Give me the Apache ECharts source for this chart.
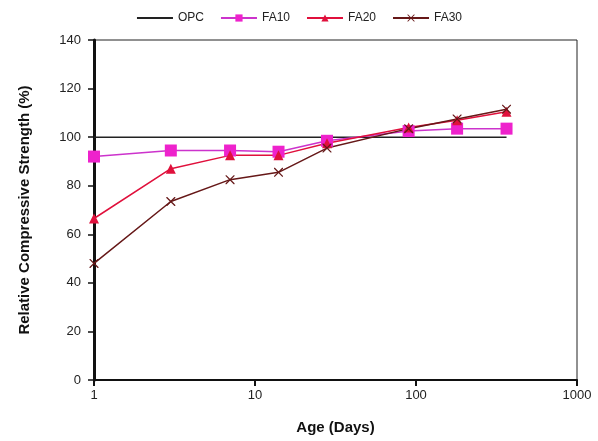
<!DOCTYPE html>
<html>
<head>
<meta charset="utf-8">
<script src="https://cdn.jsdelivr.net/npm/echarts@6/dist/echarts.min.js"></script>
<style>html,body{margin:0;padding:0;background:#fff}#c{width:598px;height:441px}</style>
</head>
<body>
<div id="c"></div>
<script>
const ages = [1, 3, 7, 14, 28, 90, 180, 365];
const opc  = [100, 100, 100, 100, 100, 100, 100, 100];
const fa10 = [92, 94.5, 94.5, 94, 98.5, 102.5, 103.5, 103.5];
const fa20 = [66.5, 87, 92.5, 92.5, 97.5, 104, 107, 110.5];
const fa30 = [48, 73.5, 82.5, 85.5, 95.5, 103.5, 107.5, 111.5];
const seriesNames = ['OPC', 'FA10', 'FA20', 'FA30'];
const yTicks = [0, 20, 40, 60, 80, 100, 120, 140];
const xTicks = [1, 10, 100, 1000];

function pts(vals) { return ages.map((a, i) => [a, vals[i]]); }

const chart = echarts.init(document.getElementById('c'), null, {renderer: 'canvas'});
const font = 'Liberation Sans, Arial, sans-serif';
chart.setOption({
  animation: false,
  backgroundColor: '#fff',
  textStyle: {fontFamily: font},
  legend: {
    top: 7, left: 'center',
    itemWidth: 36, itemHeight: 9, itemGap: 16,
    textStyle: {fontSize: 12, color: '#222', fontFamily: font},
    data: [
      {name: seriesNames[0], itemStyle: {opacity: 0}},
      seriesNames[1], seriesNames[2], seriesNames[3]
    ]
  },
  grid: {left: 94, right: 21, top: 40, bottom: 61, show: true, borderColor: '#222', borderWidth: 1},
  xAxis: {
    type: 'log', logBase: 10, min: xTicks[0], max: xTicks[xTicks.length - 1],
    name: 'Age (Days)', nameLocation: 'middle', nameGap: 40,
    nameTextStyle: {fontSize: 15, fontWeight: 'bold', color: '#111', fontFamily: font},
    axisLine: {lineStyle: {color: '#111', width: 2}},
    axisTick: {inside: false, length: 6, lineStyle: {color: '#111', width: 2}},
    minorTick: {show: false},
    splitLine: {show: false},
    axisLabel: {fontSize: 13, color: '#222', margin: 9, fontFamily: font,
                formatter: v => String(Math.round(v))}
  },
  yAxis: {
    type: 'value', min: yTicks[0], max: yTicks[yTicks.length - 1], interval: 20,
    name: 'Relative Compressive Strength (%)', nameLocation: 'middle', nameGap: 62,
    nameTextStyle: {fontSize: 15, fontWeight: 'bold', color: '#111', fontFamily: font},
    axisLine: {show: true, lineStyle: {color: '#111', width: 3}},
    axisTick: {show: true, length: 6, lineStyle: {color: '#111', width: 1.5}},
    splitLine: {show: false},
    axisLabel: {fontSize: 13, color: '#222', margin: 13, fontFamily: font}
  },
  series: [
    {name: 'OPC', type: 'line', data: pts(opc), symbol: 'none',
     lineStyle: {color: '#222', width: 1.5}, itemStyle: {color: '#222'}},
    {name: 'FA10', type: 'line', data: pts(fa10), symbol: 'rect', symbolSize: 12,
     lineStyle: {color: '#cc33cc', width: 1.5}, itemStyle: {color: '#ee22cc'}},
    {name: 'FA20', type: 'line', data: pts(fa20), symbol: 'triangle', symbolSize: 10,
     lineStyle: {color: '#e0103c', width: 1.5}, itemStyle: {color: '#e0103c'}},
    {name: 'FA30', type: 'line', data: pts(fa30),
     symbol: 'path://M0,0L1,0L10,9L10,10L9,10L0,1ZM10,0L10,1L1,10L0,10L0,9L9,0Z', symbolSize: 9,
     lineStyle: {color: '#661818', width: 1.5}, itemStyle: {color: '#661818'}}
  ]
});
</script>
</body>
</html>
